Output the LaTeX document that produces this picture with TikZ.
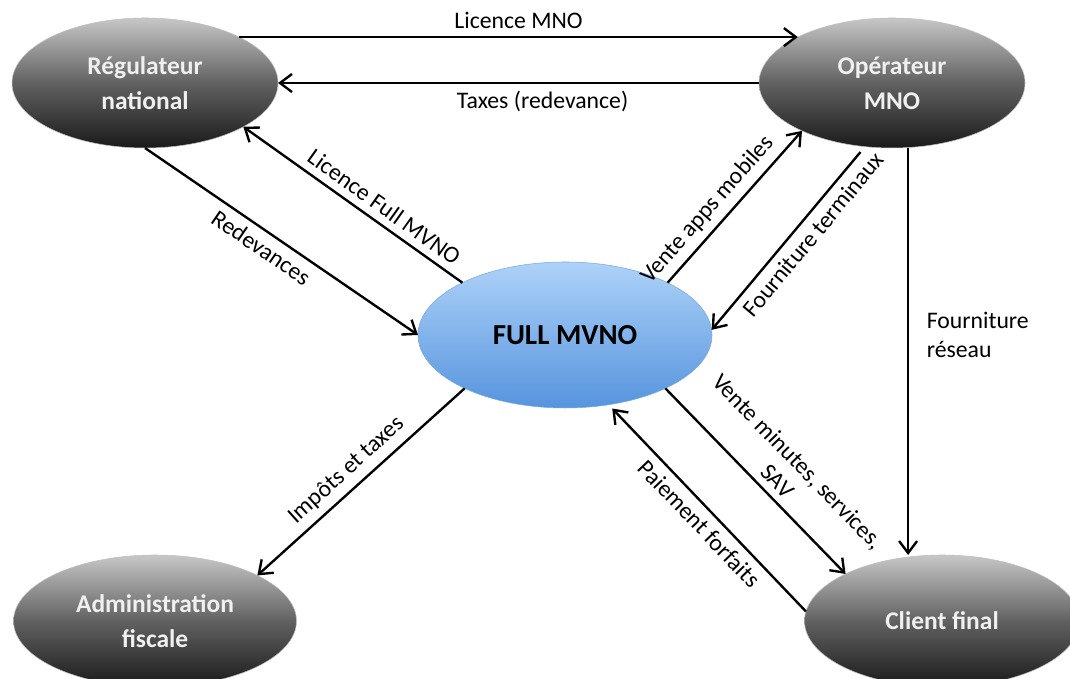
\documentclass[tikz,border=0pt]{standalone}
\usepackage{fontspec}
\setmainfont{Carlito}
\usetikzlibrary{shapes.geometric,arrows.meta}
\definecolor{bleuhaut}{RGB}{174,210,248}
\definecolor{bleubas}{RGB}{86,148,222}
\tikzset{
  acteur/.style={ellipse, inner sep=0pt, outer sep=0pt, minimum width=5.32cm, minimum height=2.6cm,
    top color=black!22, bottom color=black!90, middle color=black!62, draw=black!25, line width=0.3pt,
    text=white!94!black, align=center, font=\fontsize{14.5}{20}\selectfont\bfseries},
  mvno/.style={ellipse, inner sep=0pt, outer sep=0pt, minimum width=5.88cm, minimum height=2.92cm,
    top color=bleuhaut, bottom color=bleubas, draw=bleubas!80!white, line width=0.3pt,
    font=\fontsize{16.5}{20}\selectfont\bfseries},
  flux/.style={line width=1.35pt, -{Straight Barb[length=2.4mm,width=3.6mm]}},
  lbl/.style={font=\fontsize{13.5}{16}\selectfont, inner sep=4pt, align=center}
}
\begin{document}
\begin{tikzpicture}
  \clip (0,0) rectangle (21.4,13.58);
  \node[acteur] (reg) at (2.9,11.92) {Régulateur\\national};
  \node[acteur] (op) at (17.84,11.92) {Opérateur\\MNO};
  \node[mvno] (full) at (11.3,6.88) {FULL MVNO};
  \node[acteur, minimum width=5.66cm, minimum height=2.64cm] (adm) at (3.1,1.16) {Administration\\fiscale};
  \node[acteur, minimum width=5.5cm, minimum height=2.64cm] (cli) at (18.84,1.16) {Client final};
  % flux regulateur / operateur
  \draw[flux] (reg.26) -- (op.154) node[lbl, midway, above] {Licence MNO};
  \draw[flux] (op.west) -- (reg.east) node[lbl, pos=0.45, below] {Taxes (redevance)};
  % flux autour du full mvno
  \draw[flux] (full.153) -- (reg.-24) node[lbl, pos=0.4, sloped, above] {Licence Full MVNO};
  \draw[flux] (reg.south) -- (full.west) node[lbl, pos=0.46, sloped, below] {Redevances};
  \draw[flux] (full.27) -- (op.208) node[lbl, pos=0.4, sloped, above] {Vente apps mobiles};
  \draw[flux, shorten <=4pt] (op.247) -- (full.2) node[lbl, pos=0.42, sloped, below] {Fourniture terminaux};
  \draw[flux] (op.-76) -- (op.-76 |- cli.north) node[lbl, pos=0.46, right, xshift=6pt, align=left] {Fourniture\\réseau};
  \draw[flux] (full.-28) -- (cli.154) node[lbl, pos=0.56, sloped, above] {Vente minutes, services,\\SAV};
  \draw[flux, shorten >=3pt] (cli.176) -- (full.-58) node[lbl, pos=0.48, sloped, below] {Paiement forfaits};
  \draw[flux] (full.208) -- (adm.24) node[lbl, pos=0.51, sloped, above] {Impôts et taxes};
\end{tikzpicture}
\end{document}
